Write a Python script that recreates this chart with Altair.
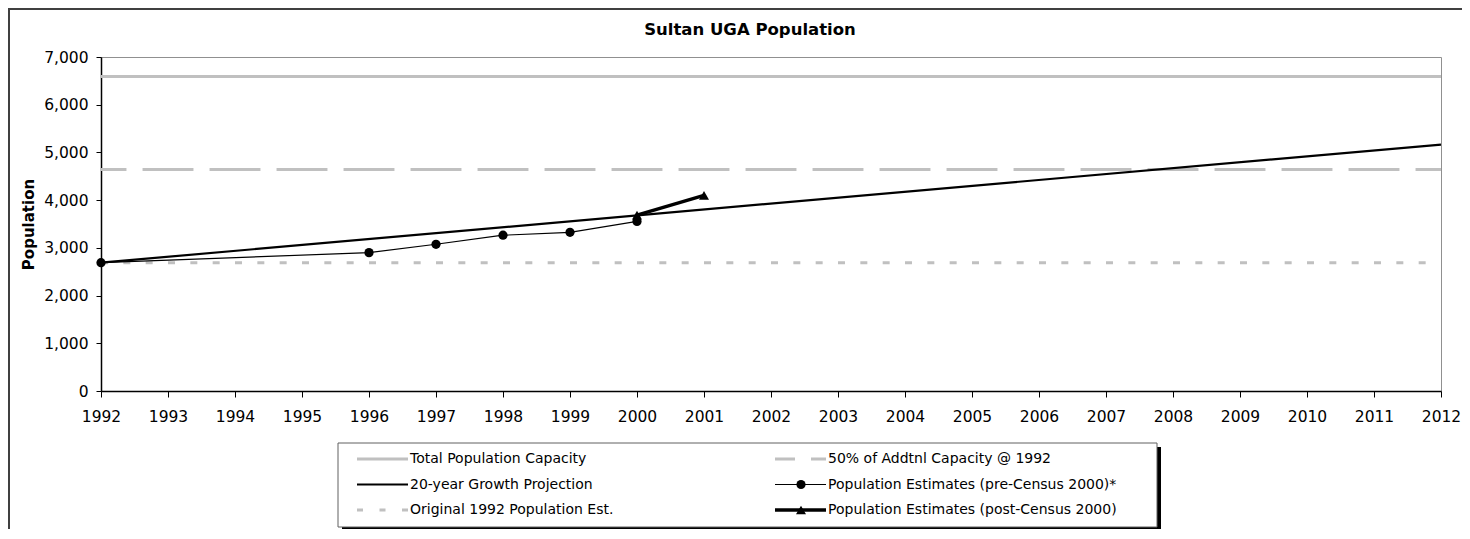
import altair as alt
import pandas as pd

# ---------------- data ----------------
title_text = "Sultan UGA Population"
y_title = "Population"

years_growth = [1992, 2012]
pop_growth = [2690, 5165]

years_pre = [1992, 1996, 1997, 1998, 1999, 2000]
pop_pre = [2690, 2900, 3075, 3265, 3325, 3555]

years_post = [2000, 2001]
pop_post = [3685, 4100]

ref_names = ["Total Population Capacity", "50% of Addtnl Capacity @ 1992", "Original 1992 Population Est."]
ref_values = [6590, 4640, 2690]

x_ticks = list(range(1992, 2013))
y_ticks = [0, 1000, 2000, 3000, 4000, 5000, 6000, 7000]

legend_labels = [
    "Total Population Capacity",
    "50% of Addtnl Capacity @ 1992",
    "20-year Growth Projection",
    "Population Estimates (pre-Census 2000)*",
    "Original 1992 Population Est.",
    "Population Estimates (post-Census 2000)",
]

# ---------------- layout / style ----------------
W, H = 1340, 334
GRAY = "#c0c0c0"
FONT = "DejaVu Sans"
YEAR_PX = W / (x_ticks[-1] - x_ticks[0])

x_scale = alt.Scale(domain=[x_ticks[0], x_ticks[-1]], nice=False, zero=False)
y_scale = alt.Scale(domain=[y_ticks[0], y_ticks[-1]], nice=False)

x_axis = alt.Axis(values=x_ticks, format="d", title=None, grid=False, tickSize=6,
                  labelPadding=12, labelFontSize=15.5, labelFont=FONT, labelColor="black",
                  domainColor="black", domainWidth=1.5, tickColor="black", labelFlush=False)
y_axis = alt.Axis(values=y_ticks, format=",d", title=y_title, grid=False, tickSize=5,
                  labelPadding=8, labelFontSize=15.5, labelFont=FONT, labelColor="black",
                  domainColor="black", domainWidth=1.5, tickColor="black",
                  titleFont=FONT, titleFontSize=15, titleFontWeight="bold", titleColor="black",
                  titleAngle=270, titleX=-73, titleY=167, titleAlign="center", titleBaseline="middle")

X = lambda: alt.X("year:Q", scale=x_scale, axis=x_axis)
Y = lambda: alt.Y("pop:Q", scale=y_scale, axis=y_axis)

ref_df = pd.DataFrame({"name": ref_names, "pop": ref_values,
                       "year": [x_ticks[0]] * 3, "year_end": [x_ticks[-1]] * 3})
growth_df = pd.DataFrame({"year": years_growth, "pop": pop_growth})
pre_df = pd.DataFrame({"year": years_pre, "pop": pop_pre})
post_df = pd.DataFrame({"year": years_post, "pop": pop_post})
one = pd.DataFrame({"k": [0]})

layers = []

# outer chart frame
layers.append(alt.Chart(one).mark_rect(fill="transparent", stroke="#404040", strokeWidth=2).encode(
    x=alt.value(-92), x2=alt.value(W + 60), y=alt.value(-48), y2=alt.value(H + 300)))

# reference lines
long_dash = [0.76 * YEAR_PX, 0.24 * YEAR_PX]
short_dash = [7, YEAR_PX / 3 - 7]
ref_styles = [dict(), dict(strokeDash=long_dash, strokeDashOffset=0.38 * YEAR_PX), dict(strokeDash=short_dash)]
for i, st in enumerate(ref_styles):
    layers.append(alt.Chart(ref_df.iloc[[i]]).mark_rule(color=GRAY, strokeWidth=3, **st).encode(
        x=X(), x2="year_end:Q", y=Y()))

# growth projection
layers.append(alt.Chart(growth_df).mark_line(color="black", strokeWidth=2.2).encode(x=X(), y=Y()))
# pre-census
layers.append(alt.Chart(pre_df).mark_line(color="black", strokeWidth=1.2).encode(x=X(), y=Y()))
layers.append(alt.Chart(pre_df).mark_point(color="black", filled=True, size=85, opacity=1).encode(x=X(), y=Y()))
# post-census
layers.append(alt.Chart(post_df).mark_line(color="black", strokeWidth=3.5).encode(x=X(), y=Y()))
layers.append(alt.Chart(post_df).mark_point(color="black", filled=True, size=100, shape="triangle-up",
                                            opacity=1).encode(x=X(), y=Y()))

# title
layers.append(alt.Chart(one).mark_text(font=FONT, fontSize=16.5, fontWeight="bold", color="black",
                                       align="center", baseline="alphabetic").encode(
    x=alt.value(649), y=alt.value(-22), text=alt.value(title_text)))

# legend box with shadow
LX0, LX1, LY0, LY1 = 237, 1056, 386, 470
layers.append(alt.Chart(one).mark_rect(fill="black").encode(
    x=alt.value(LX0 + 4), x2=alt.value(LX1 + 4), y=alt.value(LY0 + 4), y2=alt.value(LY1 + 4)))
layers.append(alt.Chart(one).mark_rect(fill="white", stroke="#606060", strokeWidth=1).encode(
    x=alt.value(LX0), x2=alt.value(LX1), y=alt.value(LY0), y2=alt.value(LY1)))

leg_styles = [
    dict(color=GRAY, strokeWidth=3),
    dict(color=GRAY, strokeWidth=3, strokeDash=[20, 16]),
    dict(color="black", strokeWidth=2.2),
    dict(color="black", strokeWidth=1.2),
    dict(color=GRAY, strokeWidth=3, strokeDash=[6, 16.5]),
    dict(color="black", strokeWidth=3.5),
]
leg_markers = [None, None, None, "circle", None, "triangle-up"]
col_x = [256, 674]
for i, lab in enumerate(legend_labels):
    r, c = divmod(i, 2)
    yy = 402 + 25.5 * r
    x0 = col_x[c]
    layers.append(alt.Chart(one).mark_rule(**leg_styles[i]).encode(
        x=alt.value(x0), x2=alt.value(x0 + 51), y=alt.value(yy)))
    if leg_markers[i]:
        layers.append(alt.Chart(one).mark_point(color="black", filled=True, opacity=1,
                                                size=85 if leg_markers[i] == "circle" else 100,
                                                shape=leg_markers[i]).encode(
            x=alt.value(x0 + 26), y=alt.value(yy)))
    layers.append(alt.Chart(one).mark_text(font=FONT, fontSize=14, color="black",
                                           align="left", baseline="middle").encode(
        x=alt.value(x0 + 53), y=alt.value(yy), text=alt.value(lab)))

chart = alt.layer(*layers).properties(
    width=W, height=H,
    autosize=alt.AutoSizeParams(type="none"),
    padding={"left": 93, "top": 49, "right": 21, "bottom": 138},
).configure(font=FONT).configure_view(stroke="#909090", strokeWidth=1)

chart.save("out.html", embed_options={"renderer": "svg", "actions": False})
